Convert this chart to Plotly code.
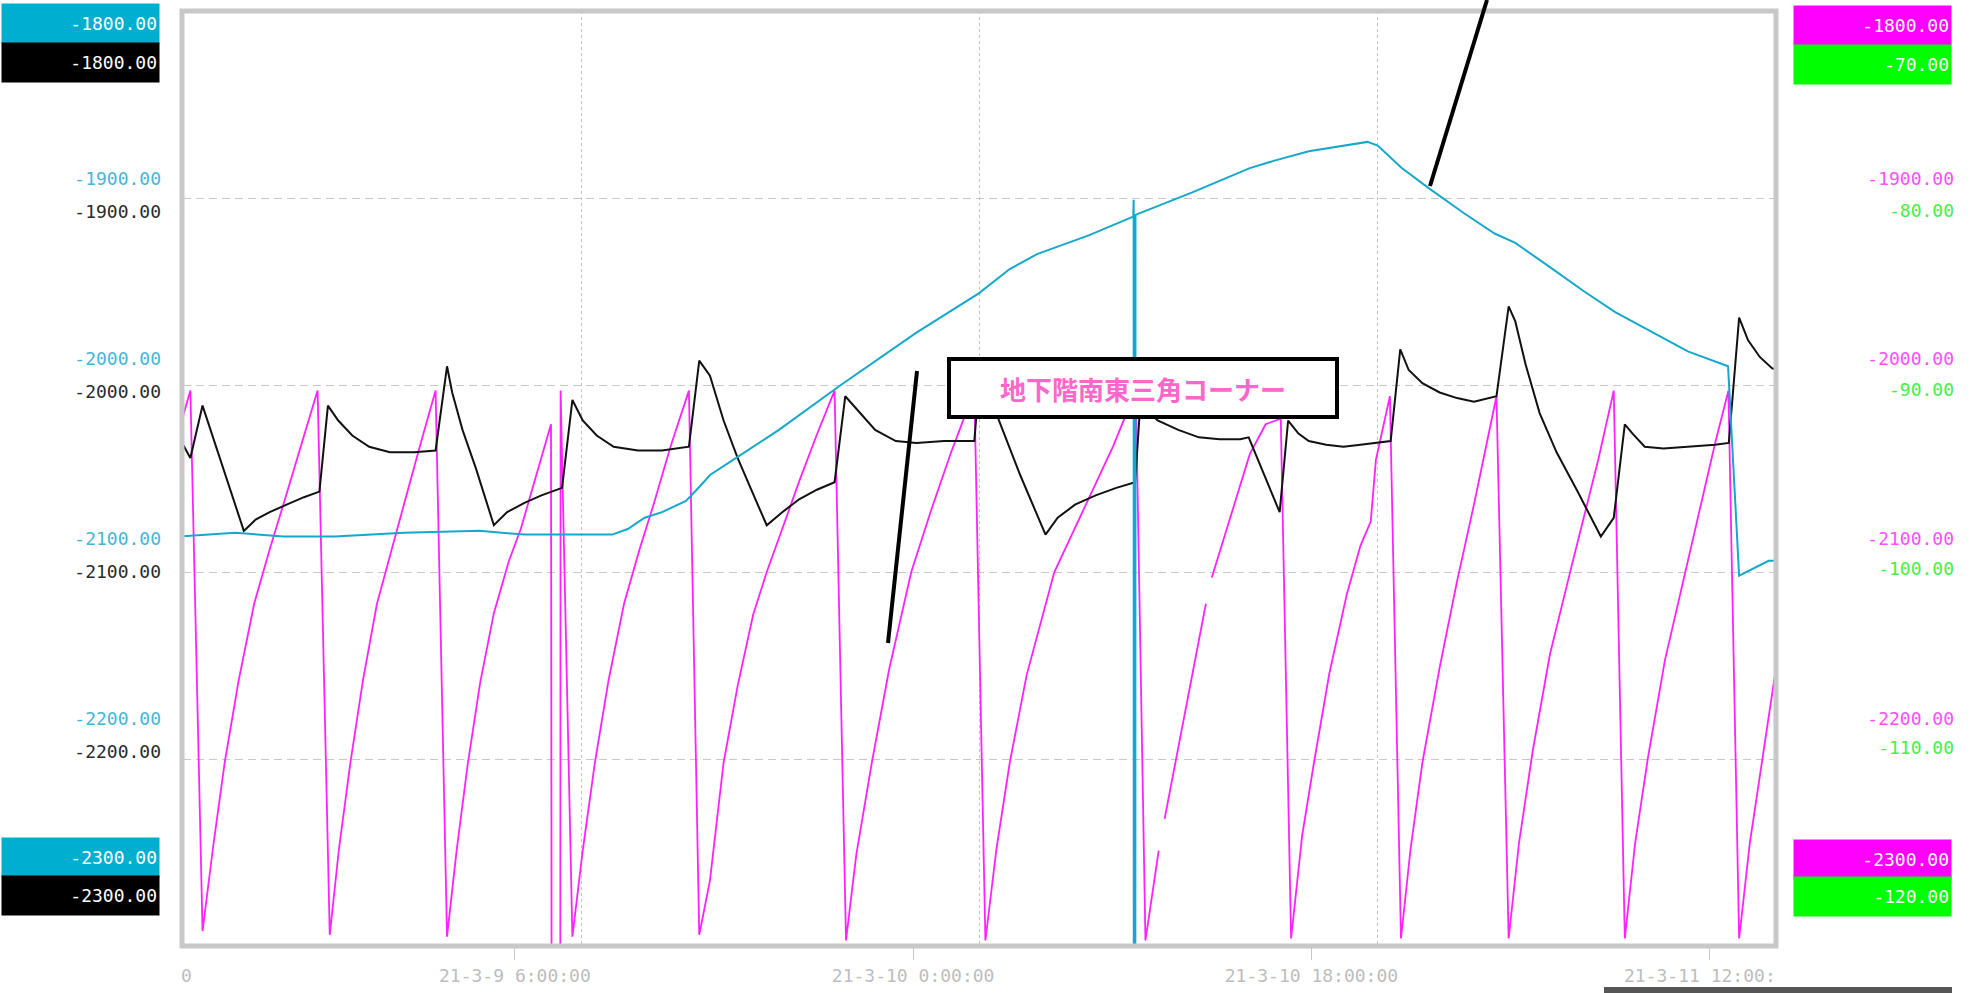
import plotly.graph_objects as go

W, H = 1970, 993
T_START = "2021-03-08 15:00"
T_END = "2021-03-11 15:00"

# ---------------- data ----------------
magenta_time = [
    "2021-03-08 14:48", "2021-03-08 15:20", "2021-03-08 15:53", "2021-03-08 16:21", "2021-03-08 16:53",
    "2021-03-08 17:31", "2021-03-08 18:13", "2021-03-08 18:55", "2021-03-08 19:32", "2021-03-08 20:19",
    "2021-03-08 21:05", "2021-03-08 21:38", "2021-03-08 22:03", "2021-03-08 22:34", "2021-03-08 23:08",
    "2021-03-08 23:46", "2021-03-09 00:25", "2021-03-09 00:59", "2021-03-09 01:42", "2021-03-09 02:25",
    "2021-03-09 02:56", "2021-03-09 03:22", "2021-03-09 03:52", "2021-03-09 04:26", "2021-03-09 05:03",
    "2021-03-09 05:44", "2021-03-09 06:16", "2021-03-09 06:58", "2021-03-09 07:38", "2021-03-09 07:40",
    "2021-03-09 08:03", "2021-03-09 08:04", "2021-03-09 08:36", "2021-03-09 09:04", "2021-03-09 09:37",
    "2021-03-09 10:14", "2021-03-09 10:56", "2021-03-09 11:38", "2021-03-09 12:16", "2021-03-09 13:02",
    "2021-03-09 13:52", "2021-03-09 14:20", "2021-03-09 14:49", "2021-03-09 15:26", "2021-03-09 16:04",
    "2021-03-09 16:46", "2021-03-09 17:23", "2021-03-09 18:05", "2021-03-09 18:52", "2021-03-09 19:38",
    "2021-03-09 20:27", "2021-03-09 20:58", "2021-03-09 21:26", "2021-03-09 22:08", "2021-03-09 22:55",
    "2021-03-09 23:55", "2021-03-10 00:47", "2021-03-10 01:43", "2021-03-10 02:15", "2021-03-10 02:46",
    "2021-03-10 03:16", "2021-03-10 03:46", "2021-03-10 04:22", "2021-03-10 05:08", "2021-03-10 06:23",
    "2021-03-10 07:56", "2021-03-10 09:02", "2021-03-10 10:04", "2021-03-10 10:30", "2021-03-10 11:06",
    "2021-03-10 11:14", "2021-03-10 11:22", "2021-03-10 13:14", "2021-03-10 13:22", "2021-03-10 13:30",
    "2021-03-10 15:13", "2021-03-10 15:56", "2021-03-10 16:37", "2021-03-10 17:05", "2021-03-10 17:35",
    "2021-03-10 18:07", "2021-03-10 18:49", "2021-03-10 19:36", "2021-03-10 20:13", "2021-03-10 20:41",
    "2021-03-10 20:55", "2021-03-10 21:33", "2021-03-10 22:03", "2021-03-10 22:29", "2021-03-10 23:01",
    "2021-03-10 23:48", "2021-03-11 00:35", "2021-03-11 01:22", "2021-03-11 01:59", "2021-03-11 02:22",
    "2021-03-11 02:55", "2021-03-11 03:23", "2021-03-11 04:00", "2021-03-11 04:47", "2021-03-11 05:43",
    "2021-03-11 06:20", "2021-03-11 06:58", "2021-03-11 07:40", "2021-03-11 08:10", "2021-03-11 08:38",
    "2021-03-11 09:13", "2021-03-11 09:59", "2021-03-11 10:51", "2021-03-11 11:38", "2021-03-11 12:15",
    "2021-03-11 12:51", "2021-03-11 13:20", "2021-03-11 13:49", "2021-03-11 14:26", "2021-03-11 14:58",
    "2021-03-11 15:17",
]
magenta_value = [
    -2025, -2003, -2292, -2248, -2202,
    -2158, -2117, -2088, -2064, -2033,
    -2003, -2294, -2248, -2202, -2158,
    -2117, -2088, -2064, -2033, -2003,
    -2295, -2249, -2203, -2159, -2122,
    -2094, -2077, -2048, -2021, -2400,
    -2400, -2003, -2295, -2249, -2202,
    -2158, -2117, -2088, -2064, -2033,
    -2003, -2294, -2265, -2202, -2161,
    -2123, -2100, -2077, -2051, -2027,
    -2003, -2297, -2251, -2202, -2152,
    -2100, -2068, -2036, -2019, -2003,
    -2297, -2248, -2202, -2155, -2100,
    -2061, -2033, -2003, -2297, -2249,
    None, -2232, -2117, None, -2103,
    -2037, -2021, -2018, -2296, -2241,
    -2202, -2154, -2112, -2086, -2073,
    -2040, -2006, -2296, -2248, -2202,
    -2151, -2105, -2063, -2027, -2006,
    -2296, -2245, -2196, -2144, -2099,
    -2070, -2040, -2003, -2296, -2245,
    -2199, -2147, -2102, -2063, -2031,
    -2003, -2296, -2245, -2196, -2154,
    -2138,
]

black_time = [
    "2021-03-08 14:52", "2021-03-08 15:20", "2021-03-08 15:53", "2021-03-08 17:45", "2021-03-08 18:17",
    "2021-03-08 18:55", "2021-03-08 19:41", "2021-03-08 20:28", "2021-03-08 21:10", "2021-03-08 21:33",
    "2021-03-08 22:01", "2021-03-08 22:39", "2021-03-08 23:25", "2021-03-09 00:21", "2021-03-09 01:27",
    "2021-03-09 02:25", "2021-03-09 02:56", "2021-03-09 03:10", "2021-03-09 03:38", "2021-03-09 04:15",
    "2021-03-09 05:03", "2021-03-09 05:39", "2021-03-09 06:26", "2021-03-09 07:12", "2021-03-09 08:08",
    "2021-03-09 08:36", "2021-03-09 09:04", "2021-03-09 09:42", "2021-03-09 10:28", "2021-03-09 11:34",
    "2021-03-09 12:39", "2021-03-09 13:52", "2021-03-09 14:20", "2021-03-09 14:49", "2021-03-09 15:26",
    "2021-03-09 16:04", "2021-03-09 16:41", "2021-03-09 17:23", "2021-03-09 18:05", "2021-03-09 18:52",
    "2021-03-09 19:39", "2021-03-09 20:27", "2021-03-09 20:56", "2021-03-09 21:31", "2021-03-09 22:17",
    "2021-03-09 23:13", "2021-03-10 00:09", "2021-03-10 01:24", "2021-03-10 02:46", "2021-03-10 03:02",
    "2021-03-10 03:53", "2021-03-10 04:50", "2021-03-10 05:59", "2021-03-10 06:32", "2021-03-10 07:19",
    "2021-03-10 08:15", "2021-03-10 09:11", "2021-03-10 10:02", "2021-03-10 10:16", "2021-03-10 11:03",
    "2021-03-10 11:59", "2021-03-10 12:55", "2021-03-10 13:51", "2021-03-10 14:47", "2021-03-10 15:10",
    "2021-03-10 16:34", "2021-03-10 16:57", "2021-03-10 17:25", "2021-03-10 17:53", "2021-03-10 18:40",
    "2021-03-10 19:27", "2021-03-10 20:13", "2021-03-10 21:35", "2021-03-10 22:01", "2021-03-10 22:24",
    "2021-03-10 23:01", "2021-03-10 23:48", "2021-03-11 00:35", "2021-03-11 01:21", "2021-03-11 02:22",
    "2021-03-11 02:55", "2021-03-11 03:13", "2021-03-11 03:41", "2021-03-11 04:19", "2021-03-11 05:05",
    "2021-03-11 06:02", "2021-03-11 07:05", "2021-03-11 07:40", "2021-03-11 08:10", "2021-03-11 08:31",
    "2021-03-11 09:04", "2021-03-11 09:55", "2021-03-11 11:00", "2021-03-11 12:15", "2021-03-11 12:52",
    "2021-03-11 13:20", "2021-03-11 13:44", "2021-03-11 14:16", "2021-03-11 14:49", "2021-03-11 15:17",
]
black_value = [
    -2029, -2039, -2011, -2078, -2072,
    -2068, -2064, -2060, -2057, -2011,
    -2019, -2027, -2033, -2036, -2036,
    -2035, -1990, -2004, -2024, -2045,
    -2075, -2068, -2063, -2059, -2055,
    -2008, -2019, -2027, -2033, -2035,
    -2035, -2033, -1987, -1995, -2019,
    -2039, -2056, -2075, -2068, -2061,
    -2056, -2052, -2006, -2014, -2024,
    -2030, -2031, -2030, -2030, -1991,
    -2019, -2048, -2080, -2071, -2064,
    -2059, -2055, -2052, -2010, -2019,
    -2024, -2028, -2029, -2029, -2028,
    -2068, -2019, -2026, -2030, -2032,
    -2033, -2032, -2030, -1981, -1992,
    -1999, -2004, -2007, -2009, -2006,
    -1958, -1966, -1989, -2015, -2036,
    -2057, -2081, -2071, -2021, -2026,
    -2033, -2034, -2033, -2032, -2031,
    -1964, -1976, -1985, -1991, -1993,
]

cyan_time = [
    "2021-03-08 14:52", "2021-03-08 16:25", "2021-03-08 17:21", "2021-03-08 19:32", "2021-03-08 21:52",
    "2021-03-09 00:59", "2021-03-09 04:24", "2021-03-09 06:26", "2021-03-09 10:24", "2021-03-09 11:06",
    "2021-03-09 11:52", "2021-03-09 12:39", "2021-03-09 13:44", "2021-03-09 14:13", "2021-03-09 14:50",
    "2021-03-09 16:23", "2021-03-09 17:56", "2021-03-09 20:44", "2021-03-10 00:09", "2021-03-10 02:58",
    "2021-03-10 04:22", "2021-03-10 05:36", "2021-03-10 07:56", "2021-03-10 09:57:00", "2021-03-10 09:58:00",
    "2021-03-10 09:58:30", "2021-03-10 10:02:30", "2021-03-10 10:03:00", "2021-03-10 12:37", "2021-03-10 15:13",
    "2021-03-10 16:20", "2021-03-10 17:53", "2021-03-10 19:26", "2021-03-10 20:32", "2021-03-10 21:00",
    "2021-03-10 22:05", "2021-03-10 23:20", "2021-03-11 00:53", "2021-03-11 02:17", "2021-03-11 03:13",
    "2021-03-11 04:47", "2021-03-11 06:20", "2021-03-11 07:44", "2021-03-11 09:27", "2021-03-11 11:01",
    "2021-03-11 12:50", "2021-03-11 13:20", "2021-03-11 14:40", "2021-03-11 15:17",
]
cyan_value = [
    -2081, -2080, -2079, -2081, -2081,
    -2079, -2078, -2080, -2080, -2077,
    -2071, -2068, -2062, -2056, -2048,
    -2036, -2024, -2000, -1972, -1951,
    -1938, -1930, -1920, -1910, -1901,
    -2400, -2400, -1909, -1897, -1884,
    -1880, -1875, -1872, -1870, -1872,
    -1884, -1895, -1908, -1919, -1924,
    -1937, -1950, -1961, -1972, -1982,
    -1990, -2102, -2094, -2094,
]

# axis tick labels
x_tick_times = ["2021-03-09 06:00", "2021-03-10 00:00", "2021-03-10 18:00", "2021-03-11 12:00"]
x_tick_labels = ["21-3-9 6:00:00", "21-3-10 0:00:00", "21-3-10 18:00:00", ""]
x_clipped_left = "0"
x_clipped_right = "21-3-11 12:00:"

left_vals = [-1900, -2000, -2100, -2200]
left_labels = ["-1900.00", "-2000.00", "-2100.00", "-2200.00"]
green_vals = [-80, -90, -100, -110]
green_labels = ["-80.00", "-90.00", "-100.00", "-110.00"]
cyan_box = ["-1800.00", "-2300.00"]
black_box = ["-1800.00", "-2300.00"]
magenta_box = ["-1800.00", "-2300.00"]
green_box = ["-70.00", "-120.00"]
note_text = "地下階南東三角コーナー"

# ---------------- layout helpers ----------------
def px(x):
    return x / W


def py(y):
    return 1 - y / H


PL, PR, PT, PB = 183, 1776, 11, 946
MONO = "DejaVu Sans Mono"
C_CYAN = "#14a8cc"
C_MAG = "#ff22ff"

fig = go.Figure()
fig.add_trace(go.Scatter(x=magenta_time, y=magenta_value, mode="lines",
                         line=dict(color=C_MAG, width=1.8), xaxis="x", yaxis="y",
                         hoverinfo="skip", connectgaps=False))
fig.add_trace(go.Scatter(x=black_time, y=black_value, mode="lines",
                         line=dict(color="#111111", width=2), xaxis="x", yaxis="y", hoverinfo="skip"))
fig.add_trace(go.Scatter(x=cyan_time, y=cyan_value, mode="lines",
                         line=dict(color=C_CYAN, width=2), xaxis="x", yaxis="y", hoverinfo="skip"))

# empty carriers so the overlay axes (grid / label scales) get drawn
for xa, ya in [("x2", "y"), ("x", "y3"), ("x", "y4"), ("x", "y5"), ("x", "y6")]:
    fig.add_trace(go.Scatter(x=[None], y=[None], mode="lines", xaxis=xa, yaxis=ya,
                             hoverinfo="skip", showlegend=False))

label_axis = dict(overlaying="y", anchor="free", side="left", showgrid=False, zeroline=False,
                  showline=False, ticks="", tickmode="array")

fig.update_layout(
    width=W, height=H, margin=dict(l=0, r=0, t=0, b=0, pad=0),
    paper_bgcolor="white", plot_bgcolor="white", showlegend=False,
    xaxis=dict(domain=[px(PL), px(PR)], type="date", range=[T_START, T_END], anchor="y",
               tickmode="array", tickvals=x_tick_times, ticktext=x_tick_labels,
               ticks="outside", ticklen=13, tickcolor="#c8c8c8", tickwidth=1,
               tickfont=dict(family=MONO, size=18, color="#bdbdbd"),
               showgrid=False, zeroline=False, showline=False),
    xaxis2=dict(type="date", range=[T_START, T_END], overlaying="x", anchor="y",
                tick0=T_START, dtick=18 * 3600 * 1000, showgrid=True, gridcolor="#c4c4c4",
                griddash="3px,3px", gridwidth=1, showticklabels=False, ticks="", zeroline=False),
    yaxis=dict(domain=[py(PB), py(PT)], range=[-2300, -1800], tick0=-1800, dtick=100, anchor="x",
               showgrid=True, gridcolor="#c8c8c8", griddash="8px,5px", gridwidth=1,
               showticklabels=False, zeroline=False, ticks=""),
    yaxis3=dict(label_axis, position=px(161), range=[-2326.0, -1807.1], tickvals=left_vals,
                ticktext=left_labels, tickfont=dict(family=MONO, size=18, color="#45b6d6")),
    yaxis4=dict(label_axis, position=px(161), range=[-2308.0, -1788.3], tickvals=left_vals,
                ticktext=left_labels, tickfont=dict(family=MONO, size=18, color="#2a2a2a")),
    yaxis5=dict(label_axis, position=px(1954), range=[-2326.0, -1807.1], tickvals=left_vals,
                ticktext=left_labels, tickfont=dict(family=MONO, size=18, color="#ff4dff")),
    yaxis6=dict(label_axis, position=px(1954), range=[-121.06, -68.83], tickvals=green_vals,
                ticktext=green_labels, tickfont=dict(family=MONO, size=18, color="#45f045")),
)

annotations = []


def box_label(text, right_x, center_y, bg):
    annotations.append(dict(
        text=text, xref="paper", yref="paper", x=px(right_x), y=py(center_y),
        xanchor="right", yanchor="middle", showarrow=False, align="right",
        width=153, height=35, borderpad=2, bgcolor=bg,
        font=dict(family=MONO, size=18, color="white")))


box_label(cyan_box[0], 160, 23.5, "#00aed0")
box_label(black_box[0], 160, 62, "#000000")
box_label(cyan_box[1], 160, 857.5, "#00aed0")
box_label(black_box[1], 160, 895, "#000000")
box_label(magenta_box[0], 1952, 25.5, "#ff00ff")
box_label(green_box[0], 1952, 64, "#00ff00")
box_label(magenta_box[1], 1952, 859, "#ff00ff")
box_label(green_box[1], 1952, 896, "#00ff00")

annotations.append(dict(text=x_clipped_left, xref="paper", yref="paper", x=px(194), y=py(975),
                        xanchor="right", yanchor="middle", showarrow=False,
                        font=dict(family=MONO, size=18, color="#bdbdbd")))
annotations.append(dict(text=x_clipped_right, xref="paper", yref="paper", x=px(1622), y=py(975),
                        xanchor="left", yanchor="middle", showarrow=False,
                        font=dict(family=MONO, size=18, color="#bdbdbd")))

annotations.append(dict(
    text="<b>" + note_text + "</b>", xref="paper", yref="paper", x=px(1143.3), y=py(388.3),
    xanchor="center", yanchor="middle", showarrow=False, width=380, height=50,
    bgcolor="white", bordercolor="black", borderwidth=4, borderpad=2,
    font=dict(family="Noto Sans CJK JP", size=26, color="#ff66cc")))

fig.update_layout(annotations=annotations)

shapes = [
    # plot frame
    dict(type="rect", xref="paper", yref="paper", x0=px(PL - 1), x1=px(PR), y0=py(PB), y1=py(PT),
         line=dict(color="#c8c8c8", width=5), fillcolor="rgba(0,0,0,0)", layer="above"),
    # leader lines
    dict(type="line", xref="paper", yref="paper", x0=px(888), y0=py(643), x1=px(917), y1=py(371),
         line=dict(color="black", width=4), layer="above"),
    dict(type="line", xref="paper", yref="paper", x0=px(1430), y0=py(186), x1=px(1487), y1=py(0),
         line=dict(color="black", width=4), layer="above"),
    # window scrollbar remnant
    dict(type="rect", xref="paper", yref="paper", x0=px(1604), x1=px(1952), y0=py(993), y1=py(987),
         line=dict(width=0), fillcolor="#555555", layer="above"),
]
fig.update_layout(shapes=shapes)

fig.write_html("out.html", config={"displayModeBar": False},
               post_script="document.body.style.margin='0';")
